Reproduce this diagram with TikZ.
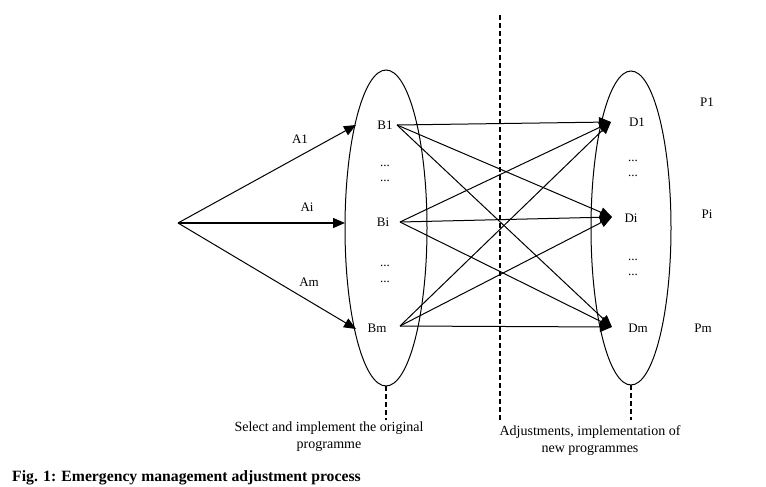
\documentclass[tikz,border=0pt]{standalone}
\usepackage{fontspec}
\setmainfont{Liberation Serif}
\usetikzlibrary{arrows.meta}
\begin{document}
\begin{tikzpicture}[x=1pt,y=-1pt,
  lbl/.style={font=\fontsize{13}{15}\selectfont, inner sep=0pt},
  captxt/.style={font=\fontsize{14}{17}\selectfont, inner sep=0pt, align=center},
  arr/.style={line width=1pt,-{Triangle[length=12pt,width=10pt]}},
  ell/.style={draw, line width=1pt},
  dsh/.style={line width=1.3pt, dash pattern=on 5pt off 3pt}]
\useasboundingbox (0,0) rectangle (766,487);
% ellipses
\draw[ell] (386,228) ellipse [x radius=41, y radius=158];
\draw[ell] (631,228) ellipse [x radius=40, y radius=157];
% dashed lines
\draw[dsh] (500,15) -- (500,422);
\draw[dsh] (386,386) -- (386,420);
\draw[dsh] (631,385) -- (631,420);
% source
\coordinate (S) at (178,223);
\coordinate (tA1) at (356,125);
\coordinate (tAi) at (345,223);
\coordinate (tAm) at (356,329);
\draw[arr] (S) -- (tA1);
\draw[arr, line width=1.4pt] (S) -- (tAi);
\draw[arr] (S) -- (tAm);
\node[lbl] (A1) at (300,139) {A1};
\node[lbl] (Ai) at (307,207) {Ai};
\node[lbl] (Am) at (309,282) {Am};
% B nodes
\node[lbl] (B1) at (385,125) {B1};
\node[lbl] (Bi) at (383,222) {Bi};
\node[lbl] (Bm) at (377,328) {Bm};
\node[lbl] (bd1) at (385,166) {...};
\node[lbl] (bd2) at (385,181) {...};
\node[lbl] (bd3) at (385,266) {...};
\node[lbl] (bd4) at (385,282) {...};
\coordinate (sB1) at (397,125);
\coordinate (sBi) at (400,222);
\coordinate (sBm) at (400,326);
% D nodes
\coordinate (tD1) at (611,122);
\coordinate (tDi) at (612,217);
\coordinate (tDm) at (612,327);
\node[lbl] (D1) at (637,122) {D1};
\node[lbl] (Di) at (631,218) {Di};
\node[lbl] (Dm) at (638,328) {Dm};
\node[lbl] (dd1) at (633,161) {...};
\node[lbl] (dd2) at (633,176) {...};
\node[lbl] (dd3) at (633,260) {...};
\node[lbl] (dd4) at (633,275) {...};
\node[lbl] (P1) at (707,102) {P1};
\node[lbl] (Pi) at (707,214) {Pi};
\node[lbl] (Pm) at (703,328) {Pm};
% connections
\foreach \b in {sB1,sBi,sBm}{
  \foreach \d in {tD1,tDi,tDm}{
    \draw[arr] (\b) -- (\d);
  }
}
% captions
\node[captxt] (c1) at (329,437) {Select and implement the original\\programme};
\node[captxt] (c2) at (590,441) {Adjustments, implementation of\\new programmes};
\node[anchor=west, inner sep=0pt, font=\bfseries\fontsize{15.7}{18}\selectfont] (fig) at (12,478) {Fig. 1: Emergency management adjustment process};
\end{tikzpicture}
\end{document}
